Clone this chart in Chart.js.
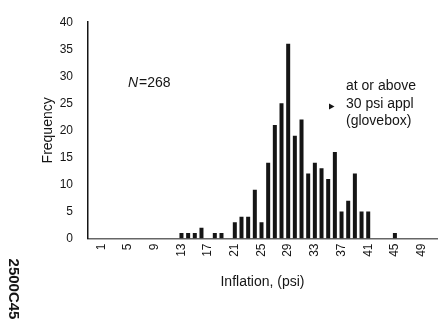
<!DOCTYPE html>
<html><head><meta charset="utf-8">
<script src="https://cdn.jsdelivr.net/npm/chart.js@4.4.1/dist/chart.umd.min.js"></script>
<style>html,body{margin:0;padding:0;background:#fff;}#wrap{position:relative;width:438px;height:322px;}</style>
</head><body><div id="wrap"><canvas id="c" width="438" height="322"></canvas></div>
<script>
// ---- data ----
const psiValues = [13,14,15,16,18,19,21,22,23,24,25,26,27,28,29,30,31,32,33,34,35,36,37,38,39,40,41,45];
const frequency = [ 1, 1, 1, 2, 1, 1, 3, 4, 4, 9, 3,14,21,25,36,19,22,12,14,13,11,16, 5, 7,12, 5, 5, 1];
const xTickValues = [1,5,9,13,17,21,25,29,33,37,41,45,49];
const yTickValues = [0,5,10,15,20,25,30,35,40];
const xAxisTitle = "Inflation, (psi)";
const yAxisTitle = "Frequency";
const sampleLabel = "N=268";
const noteLines = ["at or above", "30 psi appl", "(glovebox)"];
const docId = "2500C45";

const INK = '#151515';
const tickFont = {family: "'Liberation Sans Narrow','Liberation Sans',Arial,sans-serif", size: 12};
const textFamily = "'Liberation Sans',Arial,sans-serif";

const annotations = {
  id: 'annotations',
  afterDraw(chart) {
    const ctx = chart.ctx;
    ctx.save();
    ctx.fillStyle = INK;
    ctx.textBaseline = 'middle';
    ctx.textAlign = 'left';
    ctx.font = "italic 14px " + textFamily;
    const first = sampleLabel.slice(0, 1);
    ctx.fillText(first, 128, 83);
    const w = ctx.measureText(first).width;
    ctx.font = "14px " + textFamily;
    ctx.fillText(sampleLabel.slice(1), 128 + w + 1, 83);
    ctx.font = "14px " + textFamily;
    const ly = [86, 104, 121];
    noteLines.forEach((t, i) => ctx.fillText(t, 346, ly[i]));
    // small pointer marker
    ctx.beginPath();
    ctx.moveTo(329, 103.5); ctx.lineTo(334.5, 106.5); ctx.lineTo(329, 109.5); ctx.closePath();
    ctx.fill();
    // document id, vertical
    ctx.translate(13, 289);
    ctx.rotate(Math.PI / 2);
    ctx.textAlign = 'center';
    ctx.font = "bold 15px " + textFamily;
    ctx.fillText(docId, 0, 0);
    ctx.restore();
  }
};

new Chart(document.getElementById('c'), {
  type: 'bar',
  data: {
    datasets: [{
      data: psiValues.map((p, i) => ({x: p, y: frequency[i]})),
      backgroundColor: INK,
      borderWidth: 0,
      barPercentage: 0.6,
      categoryPercentage: 1.0
    }]
  },
  options: {
    responsive: false,
    animation: false,
    devicePixelRatio: 1,
    layout: {padding: {left: 0, right: 1, top: 15, bottom: 0}},
    plugins: {legend: {display: false}, tooltip: {enabled: false}},
    scales: {
      x: {
        type: 'linear',
        min: 1,
        max: 49.3,
        afterBuildTicks: s => { s.ticks = xTickValues.map(v => ({value: v})); },
        afterFit: s => { s.height = 83.5; s.paddingLeft = 0; s.paddingRight = 0; },
        ticks: {minRotation: 90, maxRotation: 90, autoSkip: false, padding: 5, color: INK, font: tickFont},
        grid: {display: false, drawTicks: false},
        border: {display: true, color: '#666', width: 1.5, dash: [1.2, 5.9]},
        title: {display: true, text: xAxisTitle, color: INK, font: {family: textFamily, size: 14}, padding: {top: 0, bottom: 31}}
      },
      y: {
        min: 0,
        max: 40,
        afterBuildTicks: s => { s.ticks = yTickValues.map(v => ({value: v})); },
        afterFit: s => { s.width = 88; },
        ticks: {padding: 15, color: INK, font: tickFont},
        grid: {display: false, drawTicks: false},
        border: {display: true, color: INK, width: 1.5},
        title: {display: true, text: yAxisTitle, color: INK, font: {family: textFamily, size: 14}, padding: {top: 40, bottom: 0}}
      }
    }
  },
  plugins: [annotations]
});
</script>
</body></html>
